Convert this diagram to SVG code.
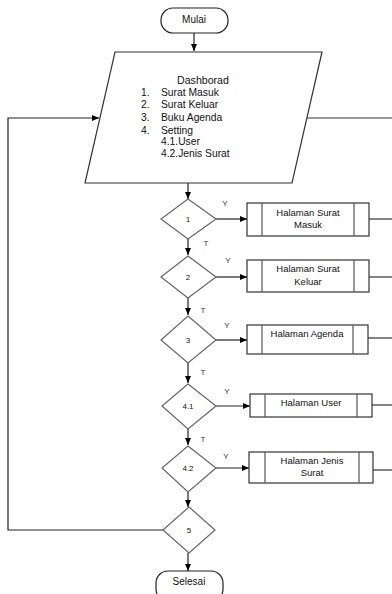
<svg xmlns="http://www.w3.org/2000/svg" width="392" height="594" viewBox="0 0 392 594">
<defs>
<marker id="ah" markerWidth="8" markerHeight="8" refX="7" refY="4" orient="auto" markerUnits="userSpaceOnUse">
<path d="M0,1 L7,4 L0,7 Z" fill="#000"/>
</marker>
<style>
.term{fill:#fff;stroke:#222;stroke-width:1.2}
.para{fill:#fff;stroke:#333;stroke-width:1.2}
.dia{fill:#fff;stroke:#666;stroke-width:1.2}
.proc{fill:#fff;stroke:#333;stroke-width:1.2}
.inner{stroke:#555;stroke-width:1.2}
.ln{fill:none;stroke:#333;stroke-width:1.2}
.arr{fill:none;stroke:#222;stroke-width:1.2;marker-end:url(#ah)}
text{font-family:"Liberation Sans",Arial,sans-serif;fill:#111}
.t10{font-size:10px}
.t9{font-size:9.5px}
.t8{font-size:8px}
.lbl{font-size:8px;fill:#333}
</style>
</defs>
<rect width="392" height="594" fill="#fff"/>

<g id="connectors">
<line class="arr" x1="194" y1="33" x2="194" y2="51"/>
<line class="arr" x1="188" y1="183" x2="188" y2="199"/>
<line class="arr" x1="188" y1="239" x2="188" y2="255"/>
<line class="arr" x1="188" y1="298" x2="188" y2="315"/>
<line class="arr" x1="188" y1="363" x2="188" y2="383"/>
<line class="arr" x1="188" y1="429" x2="188" y2="445"/>
<line class="arr" x1="188" y1="492" x2="188" y2="507"/>
<line class="arr" x1="188" y1="553" x2="188" y2="571"/>
<line class="arr" x1="216" y1="219" x2="247" y2="219"/>
<line class="arr" x1="216" y1="277" x2="247" y2="277"/>
<line class="arr" x1="216" y1="340" x2="247" y2="340"/>
<line class="arr" x1="216" y1="406" x2="250" y2="406"/>
<line class="arr" x1="216" y1="468" x2="249" y2="468"/>
<line class="ln" x1="307" y1="118" x2="392" y2="118"/>
<line class="ln" x1="369" y1="219" x2="392" y2="219"/>
<line class="ln" x1="369" y1="277" x2="392" y2="277"/>
<line class="ln" x1="368" y1="338" x2="392" y2="338"/>
<line class="ln" x1="372" y1="405" x2="392" y2="405"/>
<line class="ln" x1="373" y1="470" x2="392" y2="470"/>
<polyline class="arr" points="163,530 8,530 8,118 99,118"/>
<text class="lbl" x="225" y="206" text-anchor="middle">Y</text>
<text class="lbl" x="206" y="246" text-anchor="middle">T</text>
<text class="lbl" x="228" y="263" text-anchor="middle">Y</text>
<text class="lbl" x="203" y="313" text-anchor="middle">T</text>
<text class="lbl" x="227" y="328" text-anchor="middle">Y</text>
<text class="lbl" x="203" y="375" text-anchor="middle">T</text>
<text class="lbl" x="227" y="394" text-anchor="middle">Y</text>
<text class="lbl" x="203" y="442" text-anchor="middle">T</text>
<text class="lbl" x="226" y="459" text-anchor="middle">Y</text>
</g>

<g id="mulai">
<rect class="term" x="161" y="8" width="67" height="25" rx="12" ry="12"/>
<text class="t10" x="194" y="23" text-anchor="middle" fill="#223">Mulai</text>
</g>

<g id="dashboard">
<polygon class="para" points="115,52 322,52 292,183 85,183"/>
<text x="203" y="84" text-anchor="middle" font-size="10.6">Dashborad</text>
<g font-size="10.3">
<text x="141" y="96">1.</text><text x="161" y="96">Surat Masuk</text>
<text x="141" y="108">2.</text><text x="161" y="108">Surat Keluar</text>
<text x="141" y="121">3.</text><text x="161" y="121">Buku Agenda</text>
<text x="141" y="134">4.</text><text x="161" y="134">Setting</text>
<text x="161" y="145">4.1.User</text>
<text x="161" y="157">4.2.Jenis Surat</text>
</g>
</g>

<g id="d1">
<polygon class="dia" points="188,199 216,219 188,239 161,219"/>
<text class="t8" x="188" y="222" text-anchor="middle">1</text>
</g>
<g id="p1">
<rect class="proc" x="247" y="203" width="122" height="33"/>
<line class="inner" x1="262" y1="203" x2="262" y2="236"/>
<line class="inner" x1="354" y1="203" x2="354" y2="236"/>
<text class="t9" x="308" y="216" text-anchor="middle">Halaman Surat</text>
<text class="t9" x="308" y="228" text-anchor="middle">Masuk</text>
</g>

<g id="d2">
<polygon class="dia" points="188,256 216,277 188,298 161,277"/>
<text class="t8" x="188" y="280" text-anchor="middle">2</text>
</g>
<g id="p2">
<rect class="proc" x="247" y="260" width="122" height="32"/>
<line class="inner" x1="262" y1="260" x2="262" y2="292"/>
<line class="inner" x1="354" y1="260" x2="354" y2="292"/>
<text class="t9" x="308" y="272" text-anchor="middle">Halaman Surat</text>
<text class="t9" x="308" y="285" text-anchor="middle">Keluar</text>
</g>

<g id="d3">
<polygon class="dia" points="188,316 216,340 188,363 161,340"/>
<text class="t8" x="188" y="343" text-anchor="middle">3</text>
</g>
<g id="p3">
<rect class="proc" x="247" y="325" width="121" height="29"/>
<line class="inner" x1="262" y1="325" x2="262" y2="354"/>
<line class="inner" x1="353" y1="325" x2="353" y2="354"/>
<text class="t9" x="307" y="337" text-anchor="middle">Halaman Agenda</text>
</g>

<g id="d41">
<polygon class="dia" points="188,384 216,406 188,429 162,406"/>
<text class="t8" x="188" y="409" text-anchor="middle">4.1</text>
</g>
<g id="p41">
<rect class="proc" x="250" y="394" width="122" height="23"/>
<line class="inner" x1="265" y1="394" x2="265" y2="417"/>
<line class="inner" x1="357" y1="394" x2="357" y2="417"/>
<text class="t9" x="311" y="406" text-anchor="middle">Halaman User</text>
</g>

<g id="d42">
<polygon class="dia" points="188,446 216,468 188,492 162,468"/>
<text class="t8" x="188" y="471" text-anchor="middle">4.2</text>
</g>
<g id="p42">
<rect class="proc" x="249" y="452" width="124" height="31"/>
<line class="inner" x1="265" y1="452" x2="265" y2="483"/>
<line class="inner" x1="359" y1="452" x2="359" y2="483"/>
<text class="t9" x="312" y="464" text-anchor="middle">Halaman Jenis</text>
<text class="t9" x="312" y="476" text-anchor="middle">Surat</text>
</g>

<g id="d5">
<polygon class="dia" points="189,507 215,530 189,553 163,530"/>
<text class="t8" x="189" y="533" text-anchor="middle">5</text>
</g>

<g id="selesai">
<rect class="term" x="156" y="571" width="67" height="30" rx="12" ry="12"/>
<text class="t10" x="189" y="585" text-anchor="middle">Selesai</text>
</g>
</svg>
